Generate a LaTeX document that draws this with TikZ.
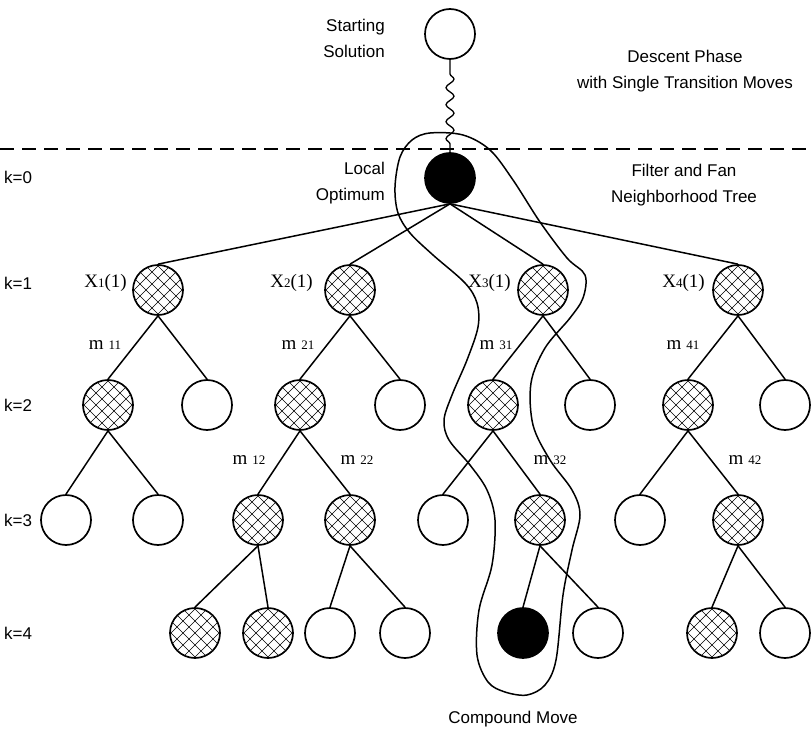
\documentclass[tikz,border=0pt]{standalone}
\usepackage{fontspec}
\setmainfont{Liberation Serif}
\newfontfamily\helv{Liberation Sans}
\usetikzlibrary{decorations.pathmorphing, positioning}

\tikzset{
  sol/.style={circle, draw, line width=1.7pt, minimum size=50pt, inner sep=0pt},
  opensol/.style={sol},
  blacksol/.style={sol, fill=black},
  hatchsol/.style={sol, path picture={
      \foreach \d in {-72,-60,...,72} {
        \draw[line width=0.6pt] ([xshift=\d pt]path picture bounding box.center) ++(-36pt,-36pt) -- ++(72pt,72pt);
        \draw[line width=0.6pt] ([xshift=\d pt]path picture bounding box.center) ++(-36pt,36pt) -- ++(72pt,-72pt);
      }}},
  edge/.style={line width=1.5pt},
  txt/.style={font={\helv\fontsize{17}{26}\selectfont}, inner sep=0pt, align=center},
  lvl/.style={txt, anchor=west},
  lab/.style={font={\fontsize{19}{19}\selectfont}, inner sep=0pt},
}
\newcommand{\sm}[1]{{\fontsize{13}{13}\selectfont #1}}

\begin{document}
\begin{tikzpicture}[x=1pt, y=-1pt]
\useasboundingbox (0,0) rectangle (811,733);

% descent phase
\node [opensol] (start) at (450,34) {};
\node [blacksol] (lopt) at (450,178) {};
\draw [line width=1.3pt, decorate, decoration={snake, amplitude=4pt, segment length=17pt, pre length=14pt, post length=6pt}] (start.south) -- (lopt.north);
\draw [line width=1.3pt, dash pattern=on 14pt off 8pt] (0,149) -- (811,149);

% k=1
\node [hatchsol] (x1) at (158,290) {};
\node [hatchsol] (x2) at (350,290) {};
\node [hatchsol] (x3) at (543,290) {};
\node [hatchsol] (x4) at (738,290) {};

% k=2
\node [hatchsol] (x1a) at (108,405) {};
\node [opensol]  (x1b) at (207,405) {};
\node [hatchsol] (x2a) at (300,405) {};
\node [opensol]  (x2b) at (400,405) {};
\node [hatchsol] (x3a) at (493,405) {};
\node [opensol]  (x3b) at (590,405) {};
\node [hatchsol] (x4a) at (688,405) {};
\node [opensol]  (x4b) at (785,405) {};

% k=3
\node [opensol]  (x1aa) at (66,520) {};
\node [opensol]  (x1ab) at (158,520) {};
\node [hatchsol] (x2aa) at (258,520) {};
\node [hatchsol] (x2ab) at (350,520) {};
\node [opensol]  (x3aa) at (443,520) {};
\node [hatchsol] (x3ab) at (540,520) {};
\node [opensol]  (x4aa) at (640,520) {};
\node [hatchsol] (x4ab) at (738,520) {};

% k=4
\node [hatchsol] (x2aaa) at (195,633) {};
\node [hatchsol] (x2aab) at (268,633) {};
\node [opensol]  (x2aba) at (330,633) {};
\node [opensol]  (x2abb) at (405,633) {};
\node [blacksol] (x3aba) at (523,633) {};
\node [opensol]  (x3abb) at (598,633) {};
\node [hatchsol] (x4aba) at (712,633) {};
\node [opensol]  (x4abb) at (785,633) {};

\foreach \p/\c in {lopt/x1, lopt/x2, lopt/x3, lopt/x4,
    x1/x1a, x1/x1b, x2/x2a, x2/x2b, x3/x3a, x3/x3b, x4/x4a, x4/x4b,
    x1a/x1aa, x1a/x1ab, x2a/x2aa, x2a/x2ab, x3a/x3aa, x3a/x3ab, x4a/x4aa, x4a/x4ab,
    x2aa/x2aaa, x2aa/x2aab, x2ab/x2aba, x2ab/x2abb, x3ab/x3aba, x3ab/x3abb, x4ab/x4aba, x4ab/x4abb}
  \draw [edge] (\p.south) -- (\c.north);

% compound move
\draw [line width=1.5pt] plot [smooth cycle, tension=0.55] coordinates {
  (430,133) (463,135) (490,150) (513,180) (540,222) (567,258) (585,275) (583,298)
  (570,318) (545,348) (531,383) (533,425) (550,460) (572,490) (580,515) (572,550)
  (563,595) (556,660) (545,685) (527,695) (505,692) (488,682) (477,655) (479,610)
  (492,565) (495,520) (487,490) (470,465) (449,440) (444,420) (452,395) (467,360)
  (478,327) (477,303) (465,283) (433,255) (410,233) (398,213) (395,187) (400,157)
  (412,140)};

% texts
\node [txt, align=right, anchor=east] (startlab) at (385,38) {Starting\\Solution};
\node [txt, align=right, anchor=east] (loptlab) at (385,183) {Local\\Optimum};
\node [txt] (descent) at (685,71) {Descent Phase\\with Single Transition Moves};
\node [txt] (filter) at (684,185) {Filter and Fan\\Neighborhood Tree};
\node [txt] (compound) at (513,719) {Compound Move};

\node [lvl] (k0) at (4,177) {k=0};
\node [lvl] (k1) at (4,283) {k=1};
\node [lvl] (k2) at (4,405) {k=2};
\node [lvl] (k3) at (4,520) {k=3};
\node [lvl] (k4) at (4,633) {k=4};

\node [lab, anchor=east] (x1lab) at (127,283) {X\sm{1}(1)};
\node [lab, anchor=east] (x2lab) at (313,283) {X\sm{2}(1)};
\node [lab, anchor=east] (x3lab) at (511,283) {X\sm{3}(1)};
\node [lab, anchor=east] (x4lab) at (705,283) {X\sm{4}(1)};

\node [lab] (m11) at (105,345) {m \sm{11}};
\node [lab] (m21) at (298,345) {m \sm{21}};
\node [lab] (m31) at (496,345) {m \sm{31}};
\node [lab] (m41) at (683,345) {m \sm{41}};
\node [lab] (m12) at (249,460) {m \sm{12}};
\node [lab] (m22) at (357,460) {m \sm{22}};
\node [lab] (m32) at (550,460) {m \sm{32}};
\node [lab] (m42) at (745,460) {m \sm{42}};
\end{tikzpicture}
\end{document}
